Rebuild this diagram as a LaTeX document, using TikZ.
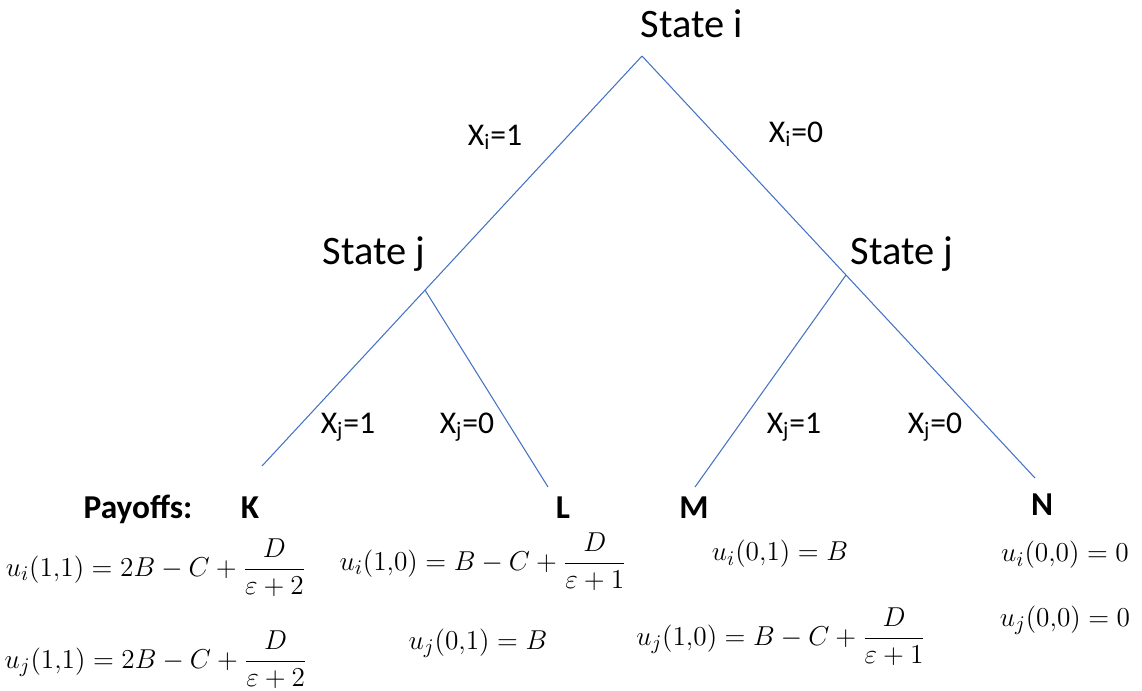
\documentclass[tikz,border=0pt]{standalone}
\usepackage[no-math]{fontspec}
\setmainfont{Carlito}
\usepackage{amsmath, amssymb}
\definecolor{tree-blue}{RGB}{68,114,196}
\usetikzlibrary{positioning, calc}
\newcommand{\payval}[1]{\scalebox{1.08}{$#1$}}

\begin{document}
\begin{tikzpicture}[
    x=0.02cm, y=-0.02cm,
    branch/.style={draw=tree-blue, line width=0.6pt},
    state/.style={anchor=base, inner sep=0pt, font=\fontsize{23}{27}\selectfont},
    choice/.style={anchor=base, inner sep=0pt, font=\fontsize{18}{22}\selectfont},
    outcome/.style={anchor=base, inner sep=0pt, font=\fontsize{19}{23}\selectfont\bfseries},
    payoff/.style={inner sep=0pt, font=\fontsize{15}{18}\selectfont}
]
    \useasboundingbox (0,0) rectangle (1142,690);

    % Baum
    \coordinate (root) at (642,56);
    \coordinate (kend) at (262,466);
    \coordinate (nend) at (1035,478);
    \coordinate (jl) at ($(root)!0.571!(kend)$);
    \coordinate (jr) at ($(root)!0.519!(nend)$);
    \coordinate (lend) at (548,487);
    \coordinate (mend) at (695,487);

    \draw[branch] (root) -- (kend);
    \draw[branch] (root) -- (nend);
    \draw[branch] (jl) -- (lend);
    \draw[branch] (jr) -- (mend);

    \node[state] (si) at (692,37) {State i};
    \node[state] (sjl) at (374,264) {State j};
    \node[state] (sjr) at (902,264) {State j};

    \node[choice] (xi1) at (495,145) {X\textsubscript{i}=1};
    \node[choice] (xi0) at (796,142) {X\textsubscript{i}=0};
    \node[choice] (xj1l) at (348,433) {X\textsubscript{j}=1};
    \node[choice] (xj0l) at (467,433) {X\textsubscript{j}=0};
    \node[choice] (xj1r) at (794,433) {X\textsubscript{j}=1};
    \node[choice] (xj0r) at (935,433) {X\textsubscript{j}=0};

    % Auszahlungen
    \node[outcome] (pay) at (138,518) {Payoffs:};
    \node[outcome] (k) at (250,518) {K};
    \node[outcome] (l) at (563,518) {L};
    \node[outcome] (m) at (694,518) {M};
    \node[outcome] (n) at (1042,515) {N};

    \node[payoff] (ui11) at (156,568) {\payval{u_i(1{,}1) = 2B - C + \dfrac{D}{\varepsilon + 2}}};
    \node[payoff] (uj11) at (156,660) {\payval{u_j(1{,}1) = 2B - C + \dfrac{D}{\varepsilon + 2}}};
    \node[payoff] (ui10) at (483,562) {\payval{u_i(1{,}0) = B - C + \dfrac{D}{\varepsilon + 1}}};
    \node[payoff] (uj01) at (478,643) {\payval{u_j(0{,}1) = B}};
    \node[payoff] (ui01) at (780,554) {\payval{u_i(0{,}1) = B}};
    \node[payoff] (uj10) at (781,637) {\payval{u_j(1{,}0) = B - C + \dfrac{D}{\varepsilon + 1}}};
    \node[payoff] (ui00) at (1065,555) {\payval{u_i(0{,}0) = 0}};
    \node[payoff] (uj00) at (1065,620) {\payval{u_j(0{,}0) = 0}};
\end{tikzpicture}
\end{document}
